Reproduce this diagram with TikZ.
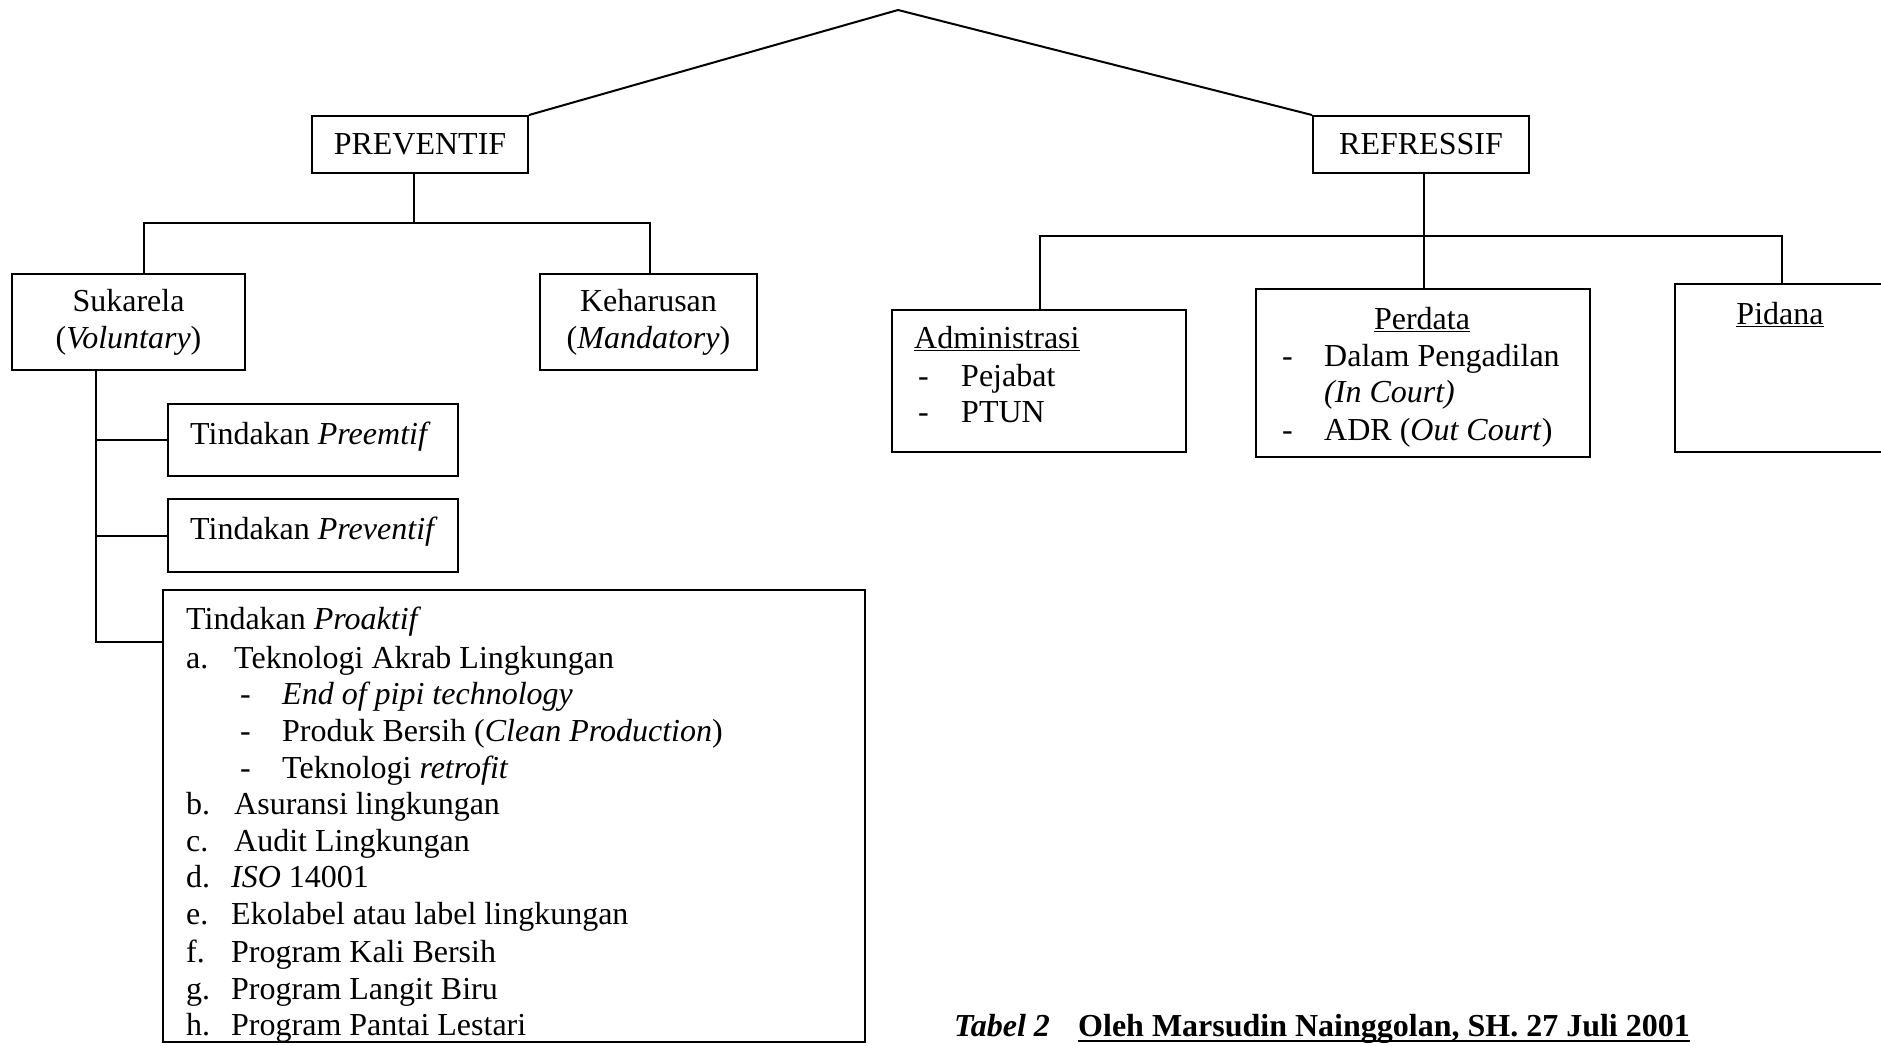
\documentclass[tikz,border=0pt]{standalone}
\usepackage{fontspec}
\setmainfont{Liberation Serif}
\newcommand\diagfont{\fontsize{32}{37}\selectfont}
\begin{document}
\begin{tikzpicture}[x=1pt,y=-1pt,
  ln/.style={line width=2pt},
  box/.style={draw,line width=2pt,inner sep=0pt,font=\diagfont},
  txt/.style={inner sep=0pt,font=\diagfont,anchor=base west},
  ctxt/.style={inner sep=0pt,font=\diagfont,anchor=base},
]
\useasboundingbox (0,0) rectangle (1881,1045);
\clip (0,0) rectangle (1881,1045);
\fill[white] (0,0) rectangle (1881,1045);

% top level
\coordinate (apex) at (898,10);
\node[box,minimum width=216,minimum height=57] (prev) at (420,144.5) {PREVENTIF};
\node[box,minimum width=216,minimum height=57] (refr) at (1421,144.5) {REFRESSIF};
\draw[ln] (prev.north east) -- (apex) -- (refr.north west);

% preventif branch
\node[box,align=center,minimum width=233,minimum height=96] (suk) at (128.5,322) {Sukarela\\(\textit{Voluntary})};
\node[box,align=center,minimum width=217,minimum height=96] (keh) at (648.5,322) {Keharusan\\(\textit{Mandatory})};
\draw[ln] (prev.south -| 414,0) -- (414,223);
\draw[ln] (144,0 |- suk.north) |- (650,223) -- (650,0 |- keh.north);

\node[box,minimum width=290,minimum height=72] (pre) at (313,440) {};
\node[box,minimum width=290,minimum height=73] (pvt) at (313,535.5) {};
\node[box,minimum width=702,minimum height=452] (pro) at (514,816) {};
\draw[ln] (96,0 |- suk.south) |- (pro.west |- 0,642);
\draw[ln] (96,0 |- pre.west) -- (pre.west);
\draw[ln] (96,0 |- pvt.west) -- (pvt.west);

\node[txt] (preT) at (190,444) {Tindakan \textit{Preemtif}};
\node[txt] (pvtT) at (190,539) {Tindakan \textit{Preventif}};

\node[txt] (p0) at (186,629) {Tindakan \textit{Proaktif}};
\node[txt] (la) at (186,668) {a.};
\node[txt] (ta) at (234,668) {Teknologi Akrab Lingkungan};
\node[txt] (d1) at (240,704) {-};
\node[txt] (s1) at (282,704) {\textit{End of pipi technology}};
\node[txt] (d2) at (240,741) {-};
\node[txt] (s2) at (282,741) {Produk Bersih (\textit{Clean Production})};
\node[txt] (d3) at (240,778) {-};
\node[txt] (s3) at (282,778) {Teknologi \textit{retrofit}};
\node[txt] (lb) at (186,814) {b.};
\node[txt] (tb) at (234,814) {Asuransi lingkungan};
\node[txt] (lc) at (186,851) {c.};
\node[txt] (tc) at (234,851) {Audit Lingkungan};
\node[txt] (ld) at (186,887) {d.};
\node[txt] (td) at (231,887) {\textit{ISO} 14001};
\node[txt] (le) at (186,924) {e.};
\node[txt] (te) at (231,924) {Ekolabel atau label lingkungan};
\node[txt] (lf) at (186,962) {f.};
\node[txt] (tf) at (231,962) {Program Kali Bersih};
\node[txt] (lg) at (186,999) {g.};
\node[txt] (tg) at (231,999) {Program Langit Biru};
\node[txt] (lh) at (186,1035) {h.};
\node[txt] (th) at (231,1035) {Program Pantai Lestari};

% refressif branch
\node[box,minimum width=294,minimum height=142] (adm) at (1039,381) {};
\node[box,minimum width=334,minimum height=168] (perd) at (1423,373) {};
\node[box,minimum width=220,minimum height=168] (pid) at (1785,368) {};
\draw[ln] (refr.south -| 1424,0) -- (1424,0 |- perd.north);
\draw[ln] (1040,0 |- adm.north) |- (1782,236) -- (1782,0 |- pid.north);

\node[txt] (admT) at (914,348) {\underline{Administrasi}};
\node[txt] (ad1) at (918,386) {-};
\node[txt] (adT1) at (961,386) {Pejabat};
\node[txt] (ad2) at (918,422) {-};
\node[txt] (adT2) at (961,422) {PTUN};

\node[ctxt] (perT) at (1422,329) {\underline{Perdata}};
\node[txt] (pd1) at (1282,366) {-};
\node[txt] (pdT1) at (1324,366) {Dalam Pengadilan};
\node[txt] (pdT1b) at (1324,402) {\textit{(In Court)}};
\node[txt] (pd2) at (1282,440) {-};
\node[txt] (pdT2) at (1324,440) {ADR (\textit{Out Court})};

\node[ctxt] (pidT) at (1780,324) {\underline{Pidana}};

% caption
\node[txt] (cap1) at (954,1036) {\textbf{\textit{Tabel 2}}};
\node[txt] (cap2) at (1078,1036) {\textbf{Oleh Marsudin Nainggolan, SH. 27 Juli 2001}};
\draw[line width=2pt] ([yshift=-5pt]cap2.base west) -- ([yshift=-5pt]cap2.base east);
\end{tikzpicture}
\end{document}
